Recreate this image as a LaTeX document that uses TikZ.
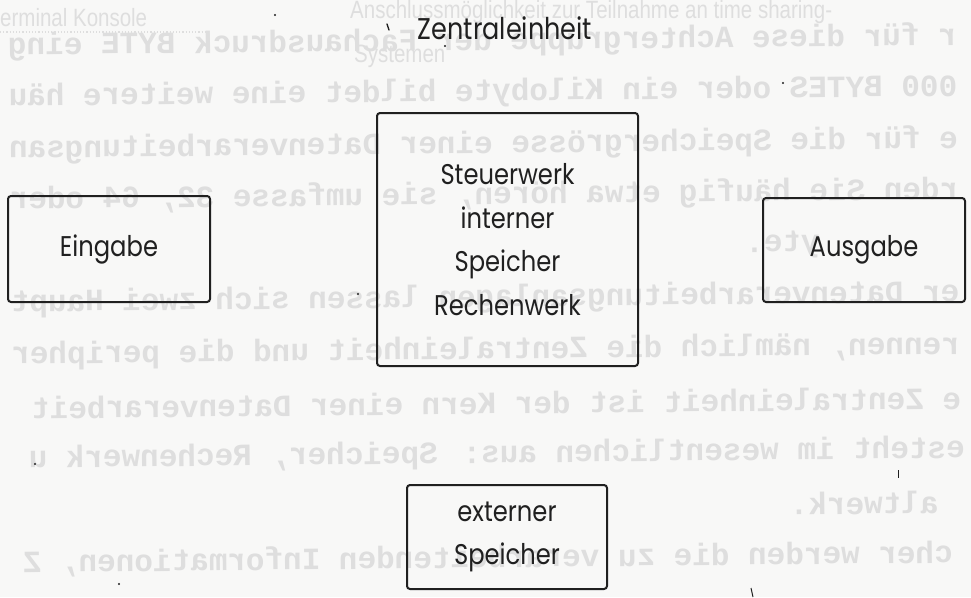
\documentclass[tikz,border=0pt]{standalone}
\usepackage{fontspec}
\newfontfamily\labelfont{Poppins}[FakeStretch=0.85]
\newfontfamily\typefont{Liberation Mono}
\newfontfamily\notefont{Liberation Sans}[FakeStretch=0.82]
\definecolor{paper}{RGB}{248,248,247}
\definecolor{ghost}{RGB}{222,222,222}
\definecolor{ink}{RGB}{32,32,32}
\tikzset{
  unitbox/.style={draw=ink, line width=2pt, rounded corners=3pt, inner sep=0pt,
    align=center, text=ink, font=\labelfont\fontsize{28.5}{43.5}\selectfont},
  title/.style={text=ink, inner sep=0pt, font=\labelfont\fontsize{30}{32}\selectfont},
  ghostline/.style={text=ghost, xscale=-1, inner sep=0pt,
    font=\typefont\bfseries\fontsize{31}{31}\selectfont},
  ghostnote/.style={text=ghost, inner sep=0pt, anchor=west,
    font=\notefont\fontsize{25}{25}\selectfont},
  speck/.style={fill=ink, circle, inner sep=0pt, minimum size=2.2pt}
}
\begin{document}
\begin{tikzpicture}[x=1pt, y=-1pt]
  % paper
  \fill[paper] (0,0) rectangle (971,597);
  \useasboundingbox (0,0) rectangle (971,597);

  % text from the reverse side of the sheet, seen through the paper
  \begin{scope}[rotate around={0.6:(485,300)}, transform shape]
    \node[ghostline] (g1)  at (485,42)  {r für diese Achtergruppe der Fachausdruck BYTE eing};
    \node[ghostline] (g2)  at (485,93)  {000 BYTES oder ein Kilobyte bildet eine weitere häu};
    \node[ghostline] (g3)  at (485,145) {e für die Speichergrösse einer Datenverarbeitungsan};
    \node[ghostline] (g4)  at (485,196) {rden Sie häufig etwa hören, sie umfasse 32, 64 oder};
    \node[ghostline] (g5)  at (783,248) {yte.};
    \node[ghostline] (g6)  at (485,299) {er Datenverarbeitungsanlagen lassen sich zwei Haupt};
    \node[ghostline] (g7)  at (485,351) {rennen, nämlich die Zentraleinheit und die peripher};
    \node[ghostline] (g8)  at (495,403) {e Zentraleinheit ist der Kern einer Datenverarbeit};
    \node[ghostline] (g9)  at (495,455) {esteht im wesentlichen aus: Speicher, Rechenwerk u};
    \node[ghostline] (g10) at (862,507) {altwerk.};
    \node[ghostline] (g11) at (485,559) {cher werden die zu verarbeitenden Informationen, Z};
  \end{scope}

  % text from the sheet underneath
  \node[ghostnote] (n1) at (0,18) {erminal Konsole};
  \draw[ghost, line width=1.2pt, dotted] (0,32) -- (205,32);
  \node[ghostnote] (n2) at (350,12) {Anschlussmöglichkeit zur Teilnahme an time sharing-};
  \node[ghostnote] (n3) at (354,56) {Systemen};

  % the units of the computer
  \node[title] (zt) at (505,28) {Zentraleinheit};
  \node[unitbox, minimum width=202pt, minimum height=106pt] (ein) at (109,249) {Eingabe};
  \node[unitbox, minimum width=261pt, minimum height=253pt] (cpu) at (507.5,239.5)
    {Steuerwerk\\interner\\Speicher\\Rechenwerk};
  \node[unitbox, minimum width=202pt, minimum height=104pt] (aus) at (864,250) {Ausgabe};
  \node[unitbox, minimum width=200pt, minimum height=104pt] (ext) at (507,537)
    {externer\\Speicher};

  % heavier top and bottom rules of the boxes
  \foreach \b in {ein,cpu,aus,ext}{
    \draw[ink, line width=1pt] ([xshift=3pt,yshift=-1.5pt]\b.north west) -- ([xshift=-3pt,yshift=-1.5pt]\b.north east);
    \draw[ink, line width=1pt] ([xshift=3pt,yshift=1.5pt]\b.south west) -- ([xshift=-3pt,yshift=1.5pt]\b.south east);
  }

  % stray marks on the sheet
  \draw[ink, line width=1.4pt, line cap=round] (387,24) -- (389,30);
  \node[speck] (s1) at (275,15) {};
  \node[speck] (s2) at (445,46) {};
  \node[speck] (s3) at (783,83) {};
  \node[speck] (s4) at (35,464) {};
  \node[speck] (s5) at (119,584) {};
  \node[speck] (s6) at (358,294) {};
  \draw[ink, line width=1pt] (898,470) -- (898,478);
  \draw[ink, line width=1pt] (751,588) -- (753,597);
\end{tikzpicture}
\end{document}
